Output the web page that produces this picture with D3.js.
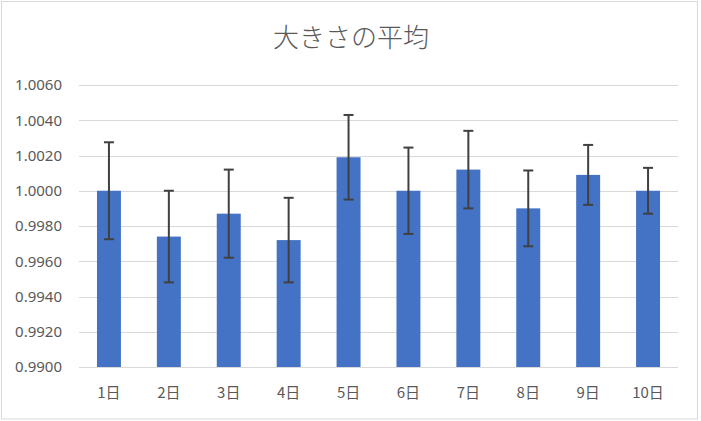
<!DOCTYPE html>
<html>
<head>
<meta charset="utf-8">
<script src="https://cdn.jsdelivr.net/npm/d3@7"></script>
<style>
  body { margin: 0; background: #fff; }
  svg { display: block; }
</style>
</head>
<body>
<svg id="chart" width="701" height="421"></svg>
<script>
// DATA
const days = ["1日", "2日", "3日", "4日", "5日", "6日", "7日", "8日", "9日", "10日"];
const means = [1.0000, 0.9974, 0.9987, 0.9972, 1.0019, 1.0000, 1.0012, 0.9990, 1.0009, 1.0000];
const errors = [0.00275, 0.0026, 0.0025, 0.0024, 0.0024, 0.00245, 0.0022, 0.00215, 0.0017, 0.0013];
const yTicks = [0.9900, 0.9920, 0.9940, 0.9960, 0.9980, 1.0000, 1.0020, 1.0040, 1.0060];
const title = "大きさの平均";

// LAYOUT
const width = 701, height = 421;
const plot = {left: 79, right: 678, top: 85, bottom: 367};

const svg = d3.select("#chart");

// Outer chart border
svg.append("rect")
    .attr("x", 1.5).attr("y", 1.5)
    .attr("width", 696).attr("height", 417.5)
    .attr("fill", "#fff")
    .attr("stroke", "#d9d9d9")
    .attr("stroke-width", 1);

// Title
svg.append("text")
    .attr("x", 351).attr("y", 47)
    .attr("text-anchor", "middle")
    .attr("font-family", "'Noto Sans CJK JP', sans-serif")
    .attr("font-size", 26)
    .attr("font-weight", 300)
    .attr("fill", "#595959")
    .text(title);

// Scales
const x = d3.scaleBand()
    .domain(days)
    .range([plot.left, plot.right])
    .paddingInner(0.6)
    .paddingOuter(0.3);

const y = d3.scaleLinear()
    .domain([0.9900, 1.0060])
    .range([plot.bottom, plot.top]);

// Gridlines
svg.append("g")
    .selectAll("line")
    .data(yTicks)
    .enter().append("line")
    .attr("x1", plot.left).attr("x2", plot.right)
    .attr("y1", d => Math.round(y(d)) + 0.5)
    .attr("y2", d => Math.round(y(d)) + 0.5)
    .attr("stroke", "#d9d9d9")
    .attr("stroke-width", 1);

// Y axis labels
const yAxis = d3.axisLeft(y)
    .tickValues(yTicks)
    .tickFormat(d3.format(".4f"))
    .tickSize(0)
    .tickPadding(17);

svg.append("g")
    .attr("transform", `translate(${plot.left},0)`)
    .call(yAxis)
    .call(g => g.select(".domain").remove())
    .call(g => g.selectAll("text")
        .attr("font-family", "'Noto Sans', sans-serif")
        .attr("font-size", 15)
        .attr("fill", "#595959"));

// Bars
svg.append("g")
    .selectAll("rect")
    .data(means)
    .enter().append("rect")
    .attr("x", (d, i) => x(days[i]))
    .attr("width", x.bandwidth())
    .attr("y", d => y(Math.max(d, 0.9900)))
    .attr("height", d => y(0.9900) - y(d))
    .attr("fill", "#4472c4");

// Error bars
const cap = 5;
const err = svg.append("g")
    .attr("stroke", "#404040")
    .attr("stroke-width", 2);

means.forEach((m, i) => {
    const cx = x(days[i]) + x.bandwidth() / 2;
    const hi = y(m + errors[i]);
    const lo = y(m - errors[i]);
    err.append("line").attr("x1", cx).attr("x2", cx).attr("y1", hi).attr("y2", lo);
    err.append("line").attr("x1", cx - cap).attr("x2", cx + cap).attr("y1", hi).attr("y2", hi);
    err.append("line").attr("x1", cx - cap).attr("x2", cx + cap).attr("y1", lo).attr("y2", lo);
});

// X axis labels
const xAxis = d3.axisBottom(x)
    .tickSize(0)
    .tickPadding(20);

svg.append("g")
    .attr("transform", `translate(0,${plot.bottom})`)
    .call(xAxis)
    .call(g => g.select(".domain").remove())
    .call(g => g.selectAll("text")
        .attr("font-family", "'Noto Sans CJK JP', sans-serif")
        .attr("font-size", 15)
        .attr("fill", "#595959"));
</script>
</body>
</html>
